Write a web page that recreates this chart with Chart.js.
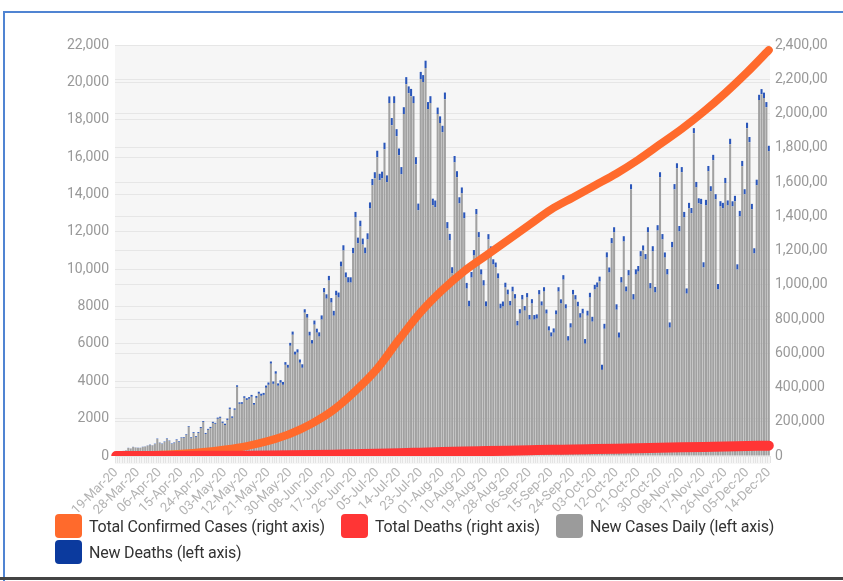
<!DOCTYPE html>
<html>
<head>
<meta charset="utf-8">
<script src="https://cdn.jsdelivr.net/npm/chart.js@4.4.0/dist/chart.umd.min.js"></script>
<style>
  html, body { margin: 0; padding: 0; background: #fff; }
  body { width: 843px; height: 581px; position: relative; overflow: hidden; font-family: Roboto, sans-serif; }
  #frame { position: absolute; left: 3px; top: 11px; width: 900px; height: 600px; border-top: 2px solid #5084d2; border-left: 2px solid #5084d2; }
  #bottomLine { position: absolute; left: 0; top: 577px; width: 843px; height: 3px; background: #444; }
  #chart { position: absolute; left: 0; top: 0; }
  #legend { position: absolute; left: 55px; top: 514px; width: 760px; display: flex; flex-wrap: wrap; row-gap: 2px; }
  .item { display: flex; align-items: center; height: 24px; font-size: 16px; color: #333; white-space: nowrap; letter-spacing: -0.2px; }
  .swatch { flex: none; width: 27px; height: 24px; border-radius: 4px; margin-right: 7px; }
</style>
</head>
<body>
<div id="frame"></div>
<canvas id="chart" width="843" height="581"></canvas>
<div id="legend"></div>
<div id="bottomLine"></div>
<script>
// daily categories, 19-Mar-20 .. 14-Dec-20
const months = ['Jan','Feb','Mar','Apr','May','Jun','Jul','Aug','Sep','Oct','Nov','Dec'];
const labels = [];
for (let i = 0; i < 271; i++) {
  const d = new Date(Date.UTC(2020, 2, 19 + i));
  labels.push(String(d.getUTCDate()).padStart(2, '0') + '-' + months[d.getUTCMonth()] + '-20');
}

// new cases per day (left axis)
const newCases = [
  120, 160, 200, 270, 300, 430, 400, 480, 450, 430,
  430, 480, 500, 550, 590, 560, 640, 910, 700, 640,
  750, 910, 800, 640, 700, 860, 750, 970, 970, 1130,
  1560, 970, 1230, 1020, 1230, 1500, 1820, 1180, 1400, 1500,
  1770, 1720, 1990, 2040, 1770, 1660, 1930, 2520, 2040, 2470,
  3700, 2790, 2790, 3110, 3000, 3060, 3170, 2740, 3110, 3330,
  3220, 3270, 3650, 3810, 4940, 3860, 4400, 3760, 3920, 3810,
  4880, 4720, 5900, 6490, 5420, 5530, 4990, 4720, 7670, 7400,
  6440, 6010, 7030, 6600, 6390, 7300, 8750, 8420, 9390, 8210,
  7510, 8590, 8480, 10140, 11000, 9550, 9280, 9280, 10840, 12770,
  11380, 12290, 11320, 10840, 11590, 13250, 14490, 14860, 15990, 14760,
  14860, 16420, 14650, 18890, 17710, 18890, 17120, 16100, 15080, 18300,
  19900, 19420, 19260, 18890, 15610, 13150, 20180, 20020, 20770, 18570,
  18890, 13420, 13310, 18300, 17820, 17330, 19100, 12180, 11540, 9770,
  15720, 14920, 13520, 14060, 12720, 8960, 8000, 9550, 10730, 12930,
  11700, 9710, 9120, 8000, 11590, 10950, 10250, 10090, 9500, 7890,
  8000, 9020, 8640, 8050, 8800, 8420, 6980, 7620, 8370, 7780,
  8480, 7300, 8160, 7300, 7350, 8640, 8050, 8800, 7620, 6710,
  6390, 6600, 7570, 8800, 8160, 9440, 7890, 6170, 6870, 8640,
  8370, 8000, 7400, 7620, 6010, 7510, 8480, 7190, 8910, 9020,
  9340, 4610, 6810, 10620, 9820, 11380, 11970, 7830, 6330, 9280,
  11480, 8800, 9660, 14270, 8370, 9710, 9870, 10680, 11000, 10520,
  11970, 8960, 10950, 8750, 12070, 14920, 11590, 10620, 9710, 6870,
  11160, 14270, 15400, 12020, 15190, 12770, 8690, 13250, 12990, 17280,
  14380, 13520, 13470, 10090, 13410, 15240, 14170, 15830, 13740, 8910,
  13360, 13250, 14600, 13410, 16690, 13360, 13630, 9980, 12820, 15510,
  14010, 17550, 16800, 13200, 10840, 14490, 19050, 19370, 19160, 18670,
  16310
];

// new deaths per day (left axis, stacked on top of cases)
const newDeaths = [
  2, 3, 5, 4, 6, 8, 7, 10, 9, 12,
  10, 14, 12, 15, 18, 16, 20, 22, 18, 25,
  24, 28, 26, 30, 27, 32, 35, 30, 38, 36,
  40, 38, 45, 42, 48, 50, 46, 55, 52, 58,
  60, 55, 65, 62, 70, 68, 75, 72, 80, 78,
  85, 82, 90, 88, 95, 92, 100, 98, 105, 110,
  115, 108, 120, 125, 118, 130, 135, 128, 140, 150,
  145, 160, 155, 170, 165, 180, 175, 190, 185, 200,
  210, 195, 220, 215, 230, 225, 240, 235, 250, 245,
  260, 255, 270, 265, 280, 275, 290, 285, 300, 295,
  310, 305, 320, 315, 330, 325, 340, 330, 350, 345,
  360, 350, 370, 355, 380, 365, 375, 360, 385, 370,
  380, 365, 390, 370, 385, 360, 380, 370, 390, 375,
  370, 355, 365, 350, 360, 345, 355, 340, 350, 335,
  340, 325, 330, 315, 320, 305, 310, 300, 295, 290,
  285, 280, 290, 275, 285, 270, 280, 265, 275, 260,
  270, 255, 265, 250, 260, 245, 255, 240, 250, 245,
  240, 250, 235, 245, 230, 240, 225, 235, 220, 230,
  225, 230, 220, 235, 225, 240, 230, 245, 235, 250,
  240, 255, 245, 260, 250, 265, 255, 260, 250, 270,
  260, 275, 265, 280, 270, 285, 275, 290, 280, 295,
  285, 270, 290, 275, 295, 280, 300, 285, 270, 290,
  275, 295, 280, 300, 285, 270, 290, 275, 295, 280,
  300, 285, 270, 290, 275, 295, 280, 300, 285, 270,
  290, 275, 295, 280, 300, 285, 270, 290, 275, 295,
  280, 300, 285, 270, 290, 275, 295, 280, 300, 285,
  270, 290, 275, 295, 280, 300, 285, 270, 290, 275,
  295
];

// running totals (right axis), read at every labelled date (every 9th day)
const totalCases = [
  1000, 3000, 7000, 13000, 23000, 38000, 58000, 88000, 130000, 190000,
  270000, 380000, 510000, 680000, 840000, 970000, 1080000, 1170000, 1260000, 1350000,
  1440000, 1510000, 1580000, 1650000, 1730000, 1820000, 1910000, 2010000, 2120000, 2240000,
  2370000
];
const totalDeaths = [
  0, 100, 300, 600, 1000, 1500, 2100, 2900, 4000, 5800,
  8000, 10500, 13000, 16000, 19500, 23000, 26000, 28500, 31000, 33500,
  36000, 38000, 40500, 43000, 45500, 48000, 50500, 53000, 55500, 58000,
  60500
];

const leftTicks = v => v >= 10000 ? v.toLocaleString('en-US') : String(v);
// right labels are cut to 8 characters in the original ("2,400,00")
const rightTicks = v => v.toLocaleString('en-US').slice(0, 8);

const atLabels = arr => arr.map((y, k) => ({ x: labels[k * 9], y }));

const series = [
  { name: 'Total Confirmed Cases (right axis)', color: '#ff6a2c', width: 286 },
  { name: 'Total Deaths (right axis)', color: '#ff3535', width: 215 },
  { name: 'New Cases Daily (left axis)', color: '#9b9b9b', width: 0 },
  { name: 'New Deaths (left axis)', color: '#0b3a9e', width: 0 }
];

const plotBg = {
  id: 'plotBg',
  beforeDraw(chart) {
    const { ctx, chartArea: a } = chart;
    ctx.save();
    ctx.fillStyle = '#f6f6f6';
    ctx.fillRect(a.left, a.top, a.right - a.left, a.bottom - a.top + 8);
    ctx.restore();
  }
};

Chart.defaults.font.family = 'Roboto, sans-serif';

new Chart(document.getElementById('chart'), {
  type: 'bar',
  data: {
    labels,
    datasets: [
      {
        type: 'line', label: series[0].name, data: atLabels(totalCases), yAxisID: 'y1',
        borderColor: series[0].color, backgroundColor: series[0].color, borderWidth: 8,
        borderCapStyle: 'round', pointRadius: 0, cubicInterpolationMode: 'monotone', order: 1
      },
      {
        type: 'line', label: series[1].name, data: atLabels(totalDeaths), yAxisID: 'y1',
        borderColor: series[1].color, backgroundColor: series[1].color, borderWidth: 10,
        borderCapStyle: 'round', pointRadius: 0, cubicInterpolationMode: 'monotone', order: 0
      },
      {
        label: series[2].name, data: newCases, yAxisID: 'y', stack: 's',
        backgroundColor: '#a1a1a1', barPercentage: 0.85, categoryPercentage: 1, order: 2
      },
      {
        label: series[3].name, data: newDeaths, yAxisID: 'y', stack: 's',
        backgroundColor: '#2a56ba', barPercentage: 0.85, categoryPercentage: 1, order: 2
      }
    ]
  },
  options: {
    responsive: false,
    animation: false,
    layout: { padding: { left: 50, right: 0, top: 45, bottom: 55 } },
    plugins: { legend: { display: false }, tooltip: { enabled: false } },
    scales: {
      x: {
        stacked: true,
        border: { display: false },
        grid: { drawOnChartArea: false, color: '#e4e4e4', tickLength: 7 },
        ticks: {
          autoSkip: false, maxRotation: 45, minRotation: 45, padding: 2,
          color: '#b3b3b3', font: { size: 13 },
          callback: (v, i) => i % 9 === 0 ? labels[i] : ''
        },
        afterFit(s) { s.height = 70; }
      },
      y: {
        position: 'left', stacked: true, min: 0, max: 22000,
        border: { display: false },
        grid: { color: '#e6e6e6', drawTicks: false },
        ticks: { stepSize: 2000, color: '#999999', font: { size: 14 }, padding: 6, callback: leftTicks },
        afterFit(s) { s.width = 65; }
      },
      y1: {
        position: 'right', min: 0, max: 2400000,
        border: { display: false },
        grid: { color: '#e6e6e6', drawTicks: false },
        ticks: { stepSize: 200000, color: '#999999', font: { size: 14 }, padding: 5, callback: rightTicks },
        afterFit(s) { s.width = 73; }
      }
    }
  },
  plugins: [plotBg]
});

const legend = document.getElementById('legend');
series.forEach(s => {
  const item = document.createElement('div');
  item.className = 'item';
  if (s.width) item.style.width = s.width + 'px';
  item.innerHTML = `<span class="swatch" style="background:${s.color}"></span><span>${s.name}</span>`;
  legend.appendChild(item);
});
</script>
</body>
</html>
